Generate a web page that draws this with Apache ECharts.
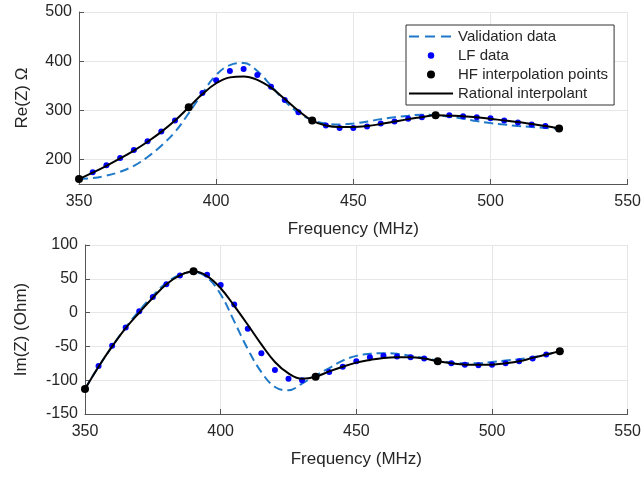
<!DOCTYPE html>
<html><head><meta charset="utf-8">
<script src="https://cdn.jsdelivr.net/npm/echarts@6/dist/echarts.min.js"></script>
<style>html,body{margin:0;padding:0;background:#fff}#c{width:644px;height:477px}</style>
</head><body><div id="c"></div>
<script>
// Frequency grid (MHz)
const freq = [350,355,360,365,370,375,380,385,390,395,400,405,410,415,420,425,430,435,440,445,450,455,460,465,470,475,480,485,490,495,500,505,510,515,520,525];
// Re(Z) series
const reValidation = [160,162,167,175,187,205,228,256,294,335,372,392,396,380,350,319,295,280,273,271,273,277,282,286,289,291,290,287,283,278,274,271,268,266,264,262];
const reLF = [160,174,188,203,219,237,257,279,306,335,361,380,384,372,348,321,296,279,269,264,264,267,273,277,283,286,290,290,288,286,284,279,275,271,268,263];
const reRational = [160,173,187,202,218,236,256,279,306,333,355,367,369,362,346,323,299,279,269,266,266,268,272,277,282,286,290,289,288,286,283,279,276,272,268,263];
// Im(Z) series
const imValidation = [-113,-80,-50,-22,3,25,44,56,60,52,27,-13,-54,-88,-110,-115,-105,-93,-82,-71,-64,-61,-60,-61,-64,-67,-71,-74,-75,-75,-73,-71,-69,-66,-62,-58];
const imLF = [-113,-79,-49,-22,2,23,42,55,61,56,41,12,-24,-60,-85,-98,-100,-95,-88,-80,-72,-66,-64,-65,-66,-68,-72,-75,-77,-78,-77,-75,-72,-68,-62,-57];
const imRational = [-113,-80,-50,-23,0,22,42,55,61,54,36,10,-18,-47,-73,-90,-98,-95,-87,-80,-74,-70,-67,-66,-66,-68,-72,-75,-77,-77,-77,-75,-72,-67,-62,-57];
// HF interpolation points
const hfFreq = [350,390,435,480,525];
const hfRe = [160,306,279,290,263];
const hfIm = [-113,61,-95,-72,-57];
// Tick values
const xTicks = [350,400,450,500,550];
const reTicks = [200,300,400,500];
const imTicks = [-150,-100,-50,0,50,100];

const pairs = (xs, ys) => xs.map((x, i) => [x, ys[i]]);
const FONT = 'Liberation Sans, Arial, sans-serif';
const TXT = '#262626';
const AX = '#555555';
const GRID = '#e6e6e6';
const VAL_COLOR = '#1f78c8';
const NONE = 'rgba(0,0,0,0)';

function xAxis(gridIndex) {
  return {
    type: 'value', gridIndex, min: xTicks[0], max: xTicks[xTicks.length - 1], interval: 50,
    name: 'Frequency (MHz)', nameLocation: 'middle', nameGap: 37,
    nameTextStyle: { fontFamily: FONT, fontSize: 17, color: TXT },
    axisLine: { show: true, onZero: false, lineStyle: { color: AX, width: 1 } },
    axisTick: { show: true, inside: true, length: 5, lineStyle: { color: AX } },
    axisLabel: { fontFamily: FONT, fontSize: 16, color: TXT, margin: 10 },
    splitLine: { show: true, lineStyle: { color: GRID, width: 1 } }
  };
}

const chart = echarts.init(document.getElementById('c'), null, { renderer: 'canvas' });
const option = {
  backgroundColor: '#fff',
  animation: false,
  grid: [
    { left: 79, right: 12, top: 12, height: 172 },
    { left: 85, right: 12, top: 245, height: 169 }
  ],
  xAxis: [xAxis(0), xAxis(1)],
  yAxis: [
    {
      type: 'value', gridIndex: 0, min: 150, max: 500, interval: 50,
      name: 'Re(Z) Ω', nameLocation: 'middle', nameGap: 48,
      nameTextStyle: { fontFamily: FONT, fontSize: 17, color: TXT },
      axisLine: { show: true, lineStyle: { color: AX, width: 1 } },
      axisTick: { show: true, inside: true, length: 5, lineStyle: { color: AX }, customValues: reTicks },
      axisLabel: { fontFamily: FONT, fontSize: 16, color: TXT, margin: 7, customValues: reTicks },
      splitLine: { show: true, lineStyle: { color: GRID, width: 1 } }
    },
    {
      type: 'value', gridIndex: 1, min: imTicks[0], max: imTicks[imTicks.length - 1], interval: 50,
      name: 'Im(Z) (Ohm)', nameLocation: 'middle', nameGap: 55,
      nameTextStyle: { fontFamily: FONT, fontSize: 17, color: TXT },
      axisLine: { show: true, lineStyle: { color: AX, width: 1 } },
      axisTick: { show: true, inside: true, length: 5, lineStyle: { color: AX } },
      axisLabel: { fontFamily: FONT, fontSize: 16, color: TXT, margin: 7 },
      splitLine: { show: true, lineStyle: { color: GRID, width: 1 } }
    }
  ],
  legend: {
    orient: 'vertical', left: 406, top: 25,
    padding: [4, 6, 4, 2], itemGap: 4, itemWidth: 44, itemHeight: 8,
    backgroundColor: '#fff', borderColor: '#333', borderWidth: 1,
    textStyle: { fontFamily: FONT, fontSize: 15, color: TXT },
    data: [
      { name: 'Validation data', itemStyle: { color: NONE, borderWidth: 0 }, lineStyle: { color: VAL_COLOR, width: 2, type: [10, 6] } },
      { name: 'LF data', icon: 'circle', itemStyle: { color: '#0000ff', opacity: 1, borderColor: '#fff', borderWidth: 1.5 } },
      { name: 'HF interpolation points', icon: 'circle', itemStyle: { color: '#000', opacity: 1 } },
      { name: 'Rational interpolant', itemStyle: { color: NONE, borderWidth: 0 }, lineStyle: { color: '#000', width: 2 } }
    ]
  },
  series: [
    { name: 'Validation data', type: 'line', xAxisIndex: 0, yAxisIndex: 0, data: pairs(freq, reValidation),
      smooth: 0.4, symbol: 'none', lineStyle: { color: VAL_COLOR, width: 2, type: [9, 5] }, itemStyle: { color: VAL_COLOR }, z: 2 },
    { name: 'LF data', type: 'scatter', xAxisIndex: 0, yAxisIndex: 0, data: pairs(freq, reLF),
      symbolSize: 6, itemStyle: { color: '#0000ff', opacity: 1 }, z: 3 },
    { name: 'HF interpolation points', type: 'scatter', xAxisIndex: 0, yAxisIndex: 0, data: pairs(hfFreq, hfRe),
      symbolSize: 8, itemStyle: { color: '#000000', opacity: 1 }, z: 4 },
    { name: 'Rational interpolant', type: 'line', xAxisIndex: 0, yAxisIndex: 0, data: pairs(freq, reRational),
      smooth: 0.4, symbol: 'none', lineStyle: { color: '#000000', width: 2 }, itemStyle: { color: '#000000' }, z: 5 },

    { name: 'Validation data', type: 'line', xAxisIndex: 1, yAxisIndex: 1, data: pairs(freq, imValidation),
      smooth: 0.4, symbol: 'none', lineStyle: { color: VAL_COLOR, width: 2, type: [9, 5] }, itemStyle: { color: VAL_COLOR }, z: 2 },
    { name: 'LF data', type: 'scatter', xAxisIndex: 1, yAxisIndex: 1, data: pairs(freq, imLF),
      symbolSize: 6, itemStyle: { color: '#0000ff', opacity: 1 }, z: 3 },
    { name: 'HF interpolation points', type: 'scatter', xAxisIndex: 1, yAxisIndex: 1, data: pairs(hfFreq, hfIm),
      symbolSize: 8, itemStyle: { color: '#000000', opacity: 1 }, z: 4 },
    { name: 'Rational interpolant', type: 'line', xAxisIndex: 1, yAxisIndex: 1, data: pairs(freq, imRational),
      smooth: 0.4, symbol: 'none', lineStyle: { color: '#000000', width: 2 }, itemStyle: { color: '#000000' }, z: 5 }
  ]
};
chart.setOption(option);
</script>
</body></html>
